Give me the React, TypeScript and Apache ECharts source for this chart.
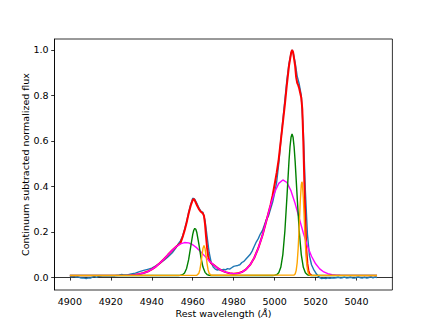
import React, { useEffect, useRef } from "react";
import * as echarts from "echarts";

const xTicks = [4900, 4920, 4940, 4960, 4980, 5000, 5020, 5040];
const yTicks = [0, 0.2, 0.4, 0.6, 0.8, 1.0];

const observed: [number, number][] = [
  [4900, 0.003], [4901, 0.002], [4902, 0.004], [4903, 0.001], [4904, 0.002], [4905, -0.002],
  [4906, -0.003], [4907, -0.004], [4908, -0.006], [4909, -0.003], [4910, -0.004], [4911, 0.001],
  [4912, 0.004], [4913, -0.001], [4914, 0.004], [4916, 0.006], [4918, 0.007], [4920, 0.006],
  [4922, 0.007], [4924, 0.009], [4925, 0.012], [4926, 0.011], [4928, 0.01], [4930, 0.015],
  [4932, 0.018], [4934, 0.025], [4936, 0.03], [4938, 0.035], [4940, 0.04], [4942, 0.05],
  [4944, 0.062], [4946, 0.075], [4948, 0.09], [4950, 0.108], [4951, 0.12], [4952, 0.132],
  [4953, 0.148], [4954, 0.16], [4955, 0.18], [4956, 0.21], [4957, 0.245], [4958, 0.285],
  [4959, 0.32], [4960, 0.348], [4961, 0.343], [4962, 0.325], [4963, 0.305], [4964, 0.29],
  [4965, 0.285], [4966, 0.25], [4967, 0.18], [4968, 0.11], [4969, 0.065], [4970, 0.045],
  [4971, 0.036], [4972, 0.032], [4973, 0.034], [4974, 0.03], [4975, 0.035], [4976, 0.033],
  [4977, 0.038], [4978, 0.036], [4979, 0.042], [4980, 0.048], [4981, 0.05], [4982, 0.052],
  [4983, 0.055], [4984, 0.065], [4985, 0.07], [4986, 0.08], [4987, 0.09], [4988, 0.1],
  [4989, 0.115], [4990, 0.135], [4991, 0.155], [4992, 0.17], [4993, 0.19], [4994, 0.205],
  [4995, 0.23], [4996, 0.255], [4997, 0.27], [4998, 0.3], [4999, 0.33], [5000, 0.37],
  [5001, 0.42], [5002, 0.5], [5003, 0.6], [5004, 0.69], [5005, 0.78], [5006, 0.87],
  [5007, 0.94], [5008, 0.985], [5008.5, 1.0], [5009, 0.99], [5010, 0.945], [5011, 0.885],
  [5012, 0.85], [5013, 0.8], [5014, 0.64], [5015, 0.38], [5016, 0.19], [5017, 0.095],
  [5018, 0.055], [5019, 0.035], [5020, 0.02], [5021, 0.008], [5022, -0.002], [5023, -0.006],
  [5024, -0.004], [5025, -0.006], [5026, -0.003], [5027, -0.005], [5028, -0.002], [5029, -0.004],
  [5030, -0.002], [5031, 0.0], [5032, -0.003], [5033, -0.002], [5034, 0.001], [5035, -0.003],
  [5036, -0.002], [5037, 0.0], [5038, -0.003], [5039, -0.004], [5040, -0.001], [5041, 0.001],
  [5042, -0.002], [5043, -0.003], [5044, 0.0], [5045, -0.004], [5046, -0.001], [5047, 0.002],
  [5048, -0.003], [5049, 0.001], [5050, -0.001],
];

const totalModel: [number, number][] = [
  [4930, 0.0098], [4932, 0.0115], [4934, 0.0142], [4936, 0.0186],
  [4938, 0.0251], [4940, 0.0345], [4942, 0.0469], [4944, 0.0624], [4946, 0.0804], [4948, 0.0999],
  [4950, 0.1188], [4952, 0.1353], [4954, 0.15], [4955, 0.175], [4956, 0.205], [4957, 0.24],
  [4958, 0.28], [4959, 0.315], [4960, 0.34], [4960.5, 0.345], [4961, 0.338], [4962, 0.318],
  [4963, 0.3], [4964, 0.288], [4965, 0.28], [4965.5, 0.27], [4966, 0.235], [4966.5, 0.18],
  [4967, 0.13], [4967.5, 0.095], [4968, 0.075], [4969, 0.062], [4970, 0.0559], [4972, 0.0415],
  [4974, 0.0306], [4976, 0.0227], [4978, 0.0179], [4980, 0.0159], [4982, 0.0173], [4984, 0.0229],
  [4986, 0.0344], [4988, 0.0543], [4990, 0.0848], [4992, 0.1277], [4994, 0.183], [4996, 0.25],
  [4998, 0.318], [4999, 0.36], [5000, 0.41], [5001, 0.46], [5002, 0.52], [5003, 0.6],
  [5004, 0.68], [5005, 0.76], [5006, 0.85], [5007, 0.93], [5008, 0.985], [5008.5, 1.0],
  [5009, 0.99], [5010, 0.93], [5010.5, 0.88], [5011, 0.855], [5011.5, 0.845], [5012, 0.83],
  [5013, 0.79], [5013.5, 0.74], [5014, 0.6], [5014.5, 0.42], [5015, 0.25], [5015.5, 0.12],
  [5016, 0.06], [5016.5, 0.03], [5017, 0.015], [5018, 0.009],
];

const broadComponents: [number, number][] = [
  [4900, 0.008], [4928, 0.009], [4930, 0.0098], [4932, 0.0115], [4934, 0.0142], [4936, 0.0186],
  [4938, 0.0251], [4940, 0.0345], [4942, 0.0469], [4944, 0.0624], [4946, 0.0804], [4948, 0.0999],
  [4950, 0.1188], [4952, 0.1353], [4954, 0.147], [4956, 0.1527], [4958, 0.1513], [4960, 0.143],
  [4962, 0.1291], [4964, 0.1114], [4966, 0.092], [4968, 0.073], [4970, 0.0559], [4972, 0.0415],
  [4974, 0.0306], [4976, 0.0227], [4978, 0.0179], [4980, 0.0159], [4982, 0.0173], [4984, 0.0229],
  [4986, 0.0344], [4988, 0.0543], [4990, 0.0848], [4992, 0.1277], [4994, 0.183], [4996, 0.25],
  [4998, 0.318], [5000, 0.374], [5002, 0.413], [5004, 0.428], [5006, 0.4167], [5008, 0.3798],
  [5010, 0.3244], [5012, 0.2595], [5014, 0.1948], [5016, 0.1378], [5018, 0.0923], [5020, 0.0592],
  [5022, 0.0371], [5024, 0.0234], [5026, 0.0156], [5028, 0.0115], [5030, 0.0095], [5032, 0.0086],
  [5050, 0.008],
];

const narrowGreen: [number, number][] = [
  [4900, 0.008], [4953, 0.008], [4954, 0.0087], [4955, 0.011], [4956, 0.0188], [4957, 0.0388],
  [4958, 0.0776], [4959, 0.1336], [4960, 0.1885], [4960.5, 0.2067], [4961, 0.2148], [4961.5, 0.2113],
  [4962, 0.1968], [4963, 0.1455], [4964, 0.0878], [4965, 0.0449], [4966, 0.0216], [4967, 0.012],
  [4968, 0.0089], [4969, 0.008], [4999, 0.008], [5000, 0.0087], [5001, 0.011], [5002, 0.0195],
  [5003, 0.0437], [5004, 0.0998], [5005, 0.2033], [5006, 0.3526], [5007, 0.5108], [5007.5, 0.574],
  [5008, 0.6155], [5008.5, 0.63], [5009, 0.6155], [5009.5, 0.574], [5010, 0.5108], [5011, 0.3526],
  [5012, 0.2033], [5013, 0.0998], [5014, 0.0437], [5015, 0.0195], [5016, 0.011], [5017, 0.0087],
  [5018, 0.008], [5050, 0.008],
];

const narrowOrange: [number, number][] = [
  [4900, 0.008], [4962, 0.0088], [4963, 0.018], [4963.5, 0.0333], [4964, 0.0601], [4964.5, 0.0953],
  [4965, 0.127], [4965.5, 0.14], [4966, 0.127], [4966.5, 0.0953], [4967, 0.0601], [4967.5, 0.0333],
  [4968, 0.018], [4969, 0.0088], [5009.5, 0.0098], [5010, 0.0147], [5010.5, 0.0293], [5011, 0.0638],
  [5011.5, 0.129], [5012, 0.2255], [5012.5, 0.3314], [5013, 0.4062], [5013.3, 0.42], [5013.5, 0.4138],
  [5014, 0.3504], [5014.5, 0.247], [5015, 0.1461], [5015.5, 0.0741], [5016, 0.0342], [5016.5, 0.0166],
  [5017, 0.0103], [5017.5, 0.0089], [5050, 0.008],
];

const FONT = "DejaVu Sans";

export default function App() {
  const ref = useRef<HTMLDivElement>(null);
  useEffect(() => {
    if (!ref.current) return;
    const chart = echarts.init(ref.current, undefined, { renderer: "svg" });
    const line = (data: [number, number][], color: string, width: number, z: number) => ({
      type: "line",
      data,
      showSymbol: false,
      symbol: "none",
      smooth: false,
      lineStyle: { color, width },
      z,
      silent: true,
    });
    chart.setOption({
      animation: false,
      backgroundColor: "#ffffff",
      grid: {
        left: 54.5,
        right: 43.6,
        top: 39,
        bottom: 36,
        show: true,
        borderColor: "#000000",
        borderWidth: 0.8,
        outerBoundsMode: "none",
        containLabel: false,
      },
      xAxis: {
        type: "value",
        min: 4892.5,
        max: 5057.5,
        name: "Rest wavelength ({i|Å})",
        nameLocation: "middle",
        nameGap: 18,
        nameMoveOverlap: false,
        nameTextStyle: {
          fontFamily: FONT,
          fontSize: 9.5,
          color: "#000",
          rich: { i: { fontStyle: "italic", fontFamily: FONT, fontSize: 9.5, color: "#000" } },
        },
        axisLine: { show: true, lineStyle: { color: "#000", width: 0.8 } },
        axisTick: { show: true, inside: false, length: 3.3, lineStyle: { color: "#000", width: 0.8 }, customValues: xTicks },
        axisLabel: {
          fontFamily: FONT,
          fontSize: 9.5,
          color: "#000",
          margin: 6,
          customValues: xTicks,
          formatter: (v: number) => String(Math.round(v)),
        },
        splitLine: { show: false },
      },
      yAxis: {
        type: "value",
        min: -0.056,
        max: 1.048,
        name: "Continuum subtracted normalized flux",
        nameLocation: "middle",
        nameGap: 24.5,
        nameMoveOverlap: false,
        nameTextStyle: { fontFamily: FONT, fontSize: 9.5, color: "#000" },
        axisLine: { show: true, lineStyle: { color: "#000", width: 0.8 } },
        axisTick: { show: true, inside: false, length: 3.3, lineStyle: { color: "#000", width: 0.8 }, customValues: yTicks },
        axisLabel: {
          fontFamily: FONT,
          fontSize: 9.5,
          color: "#000",
          margin: 6,
          customValues: yTicks,
          formatter: (v: number) => v.toFixed(1),
        },
        splitLine: { show: false },
      },
      series: [
        line(observed, "#1f77b4", 1.4, 1),
        line(totalModel, "#ff0000", 2, 2),
        line(broadComponents, "#ff00ff", 1.4, 3),
        line(narrowGreen, "#008000", 1.4, 4),
        line(narrowOrange, "#ffa500", 1.4, 5),
      ],
    });
    return () => chart.dispose();
  }, []);
  return (
    <div
      ref={ref}
      style={{ position: "absolute", left: 0, top: 0, width: 436, height: 326, background: "#fff" }}
    />
  );
}
